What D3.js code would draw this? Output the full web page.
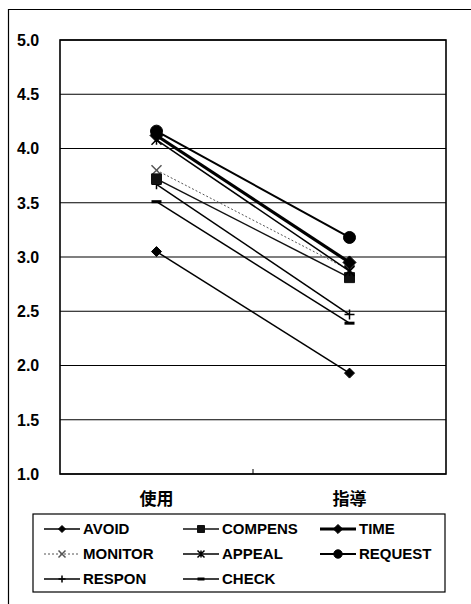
<!DOCTYPE html>
<html>
<head>
<meta charset="utf-8">
<script src="https://cdn.jsdelivr.net/npm/d3@7"></script>
<style>
  html, body { margin: 0; padding: 0; background: #fff; }
  svg { display: block; }
  text { font-family: "Liberation Sans", Arial, Helvetica, sans-serif; fill: #000; }
  .cjk { font-family: "Noto Sans CJK JP", "Noto Sans CJK SC", sans-serif; }
</style>
</head>
<body>
<svg id="chart" width="471" height="604"></svg>
<script>
// Categories on the x axis
const categories = ["使用", "指導"];

// Series names and their mean scores (使用, 指導)
const seriesNames = ["AVOID", "COMPENS", "TIME", "MONITOR", "APPEAL", "REQUEST", "RESPON", "CHECK"];
const AVOID   = [3.05, 1.93];
const COMPENS = [3.72, 2.81];
const TIME    = [4.12, 2.95];
const MONITOR = [3.80, 2.88];
const APPEAL  = [4.08, 2.87];
const REQUEST = [4.16, 3.18];
const RESPON  = [3.67, 2.47];
const CHECK   = [3.51, 2.39];
const seriesValues = [AVOID, COMPENS, TIME, MONITOR, APPEAL, REQUEST, RESPON, CHECK];

// Y axis ticks
const yTicks = [1.0, 1.5, 2.0, 2.5, 3.0, 3.5, 4.0, 4.5, 5.0];

// Visual style of each series
const styles = {
  AVOID:   { width: 1.5, dash: null,  marker: "diamond", size: 5,   color: "#000" },
  COMPENS: { width: 1.5, dash: null,  marker: "square",  size: 5,   color: "#111" },
  TIME:    { width: 3.2, dash: null,  marker: "diamond", size: 6.5, color: "#000" },
  MONITOR: { width: 1,   dash: "2,2", marker: "x",       size: 5,   color: "#555" },
  APPEAL:  { width: 1.5, dash: null,  marker: "star",    size: 5,   color: "#000" },
  REQUEST: { width: 2,   dash: null,  marker: "circle",  size: 6,   color: "#000" },
  RESPON:  { width: 1.5, dash: null,  marker: "plus",    size: 5,   color: "#000" },
  CHECK:   { width: 1.5, dash: null,  marker: "dash",    size: 5,   color: "#000" }
};

const svg = d3.select("#chart");

// Outer frame (top and left edges)
svg.append("path")
  .attr("d", "M8.5,604 L8.5,9.5 L471,9.5")
  .attr("fill", "none").attr("stroke", "#000").attr("stroke-width", 1.2);

const plot = { left: 60, right: 446, top: 40, bottom: 474 };

const x = d3.scaleBand().domain(categories).range([plot.left, plot.right]);
const y = d3.scaleLinear().domain([1, 5]).range([plot.bottom, plot.top]);

// Horizontal gridlines
svg.append("g").selectAll("line").data(yTicks).join("line")
  .attr("x1", plot.left).attr("x2", plot.right)
  .attr("y1", d => y(d)).attr("y2", d => y(d))
  .attr("stroke", "#000").attr("stroke-width", 1.1);

// Plot border
svg.append("rect")
  .attr("x", plot.left).attr("y", plot.top)
  .attr("width", plot.right - plot.left).attr("height", plot.bottom - plot.top)
  .attr("fill", "none").attr("stroke", "#000").attr("stroke-width", 1.6);

// Y tick labels
svg.append("g").selectAll("text").data(yTicks).join("text")
  .attr("x", 17).attr("y", d => y(d))
  .attr("dy", "0.36em")
  .attr("font-size", 16).attr("font-weight", "bold")
  .text(d => d.toFixed(1));

// X axis: tick between categories and category labels
const xAxis = d3.axisBottom(x).tickSize(0).tickPadding(19);
const gx = svg.append("g").attr("transform", `translate(0,${plot.bottom})`).call(xAxis);
gx.select(".domain").remove();
gx.selectAll("text")
  .attr("class", "cjk")
  .attr("font-size", 17).attr("font-weight", "bold")
  .attr("fill", "#000");
svg.append("line")
  .attr("x1", x(categories[1])).attr("x2", x(categories[1]))
  .attr("y1", plot.bottom).attr("y2", plot.bottom - 5)
  .attr("stroke", "#000").attr("stroke-width", 1);

// Marker path generator
function markerPath(type, s) {
  switch (type) {
    case "diamond": return `M0,${-s}L${s},0L0,${s}L${-s},0Z`;
    case "square":  return `M${-s},${-s}H${s}V${s}H${-s}Z`;
    case "circle":  return d3.symbol(d3.symbolCircle, Math.PI * s * s)();
    case "x":       return `M${-s},${-s}L${s},${s}M${-s},${s}L${s},${-s}`;
    case "plus":    return `M${-s},0H${s}M0,${-s}V${s}`;
    case "star":    return `M${-s},${-s}L${s},${s}M${-s},${s}L${s},${-s}M0,${-s}V${s}`;
    case "dash":    return `M${-s},0H${s}`;
  }
}
const filledMarkers = new Set(["diamond", "square", "circle"]);

function drawMarker(g, name, cx, cy, scale = 1) {
  const st = styles[name];
  const filled = filledMarkers.has(st.marker);
  g.append("path")
    .attr("transform", `translate(${cx},${cy})`)
    .attr("d", markerPath(st.marker, st.size * scale))
    .attr("fill", filled ? st.color : "none")
    .attr("stroke", st.color)
    .attr("stroke-width", filled ? 1 : (st.marker === "dash" ? 3 : 1.5));
}

// Series lines and markers
const line = d3.line().x((d, i) => x(categories[i]) + x.bandwidth() / 2).y(d => y(d));
const seriesG = svg.append("g");
// draw thinner series first so heavier ones sit on top
const order = ["MONITOR", "RESPON", "CHECK", "AVOID", "COMPENS", "APPEAL", "REQUEST", "TIME"];
order.forEach(name => {
  const vals = seriesValues[seriesNames.indexOf(name)];
  const st = styles[name];
  seriesG.append("path")
    .attr("d", line(vals))
    .attr("fill", "none")
    .attr("stroke", st.color)
    .attr("stroke-width", st.width)
    .attr("stroke-dasharray", st.dash);
});
order.forEach(name => {
  const vals = seriesValues[seriesNames.indexOf(name)];
  vals.forEach((v, i) => drawMarker(seriesG, name, x(categories[i]) + x.bandwidth() / 2, y(v)));
});

// Legend
const legend = { left: 33, top: 514, width: 412, height: 78 };
svg.append("rect")
  .attr("x", legend.left).attr("y", legend.top)
  .attr("width", legend.width).attr("height", legend.height)
  .attr("fill", "#fff").attr("stroke", "#000").attr("stroke-width", 1.2);

const colX = [44, 183, 320];
const rowY = [529, 554, 579];
seriesNames.forEach((name, i) => {
  const col = i % 3, row = Math.floor(i / 3);
  const lx = colX[col], ly = rowY[row];
  const st = styles[name];
  const g = svg.append("g");
  g.append("line")
    .attr("x1", lx).attr("x2", lx + 36).attr("y1", ly).attr("y2", ly)
    .attr("stroke", st.color).attr("stroke-width", st.width)
    .attr("stroke-dasharray", st.dash);
  drawMarker(g, name, lx + 18, ly, 0.7);
  g.append("text")
    .attr("x", lx + 39).attr("y", ly).attr("dy", "0.36em")
    .attr("font-size", 15).attr("font-weight", "bold")
    .text(name);
});
</script>
</body>
</html>
